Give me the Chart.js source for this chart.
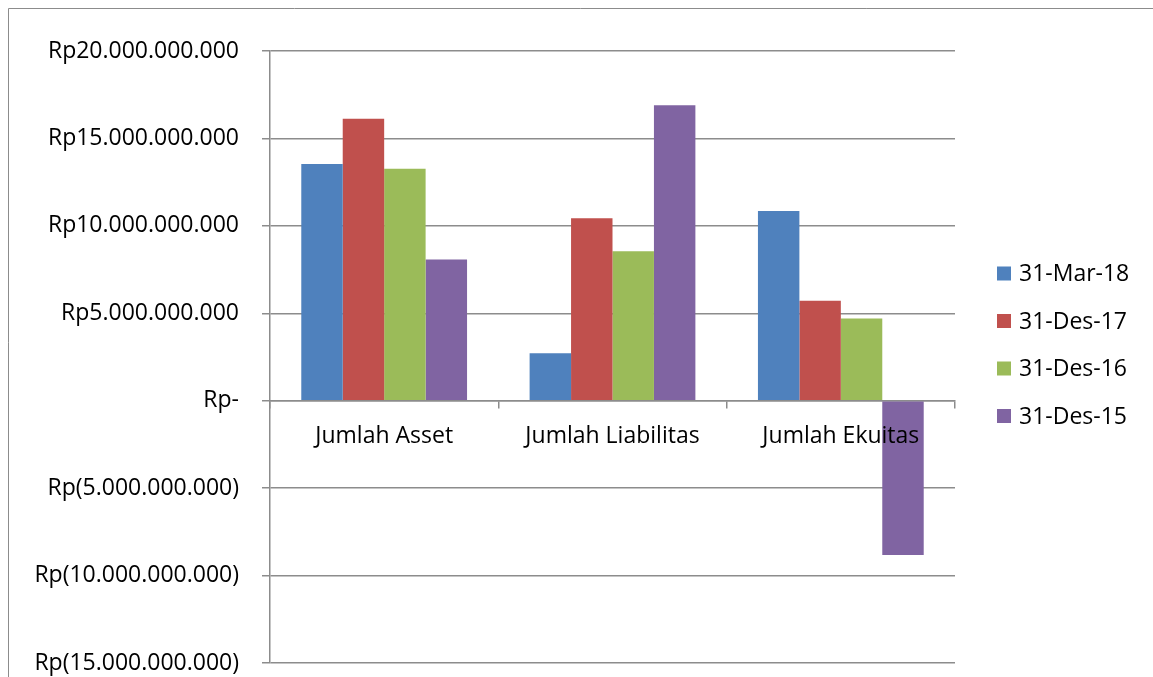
<!DOCTYPE html>
<html>
<head>
<meta charset="utf-8">
<script src="https://cdn.jsdelivr.net/npm/chart.js@4/dist/chart.umd.min.js"></script>
<style>
  html, body { margin: 0; padding: 0; background: #ffffff; }
  #wrap { width: 1153px; height: 677px; position: relative; }
</style>
</head>
<body>
<div id="wrap"><canvas id="chart"></canvas></div>
<script>
// Posisi keuangan (Rupiah)
const categories = ['Jumlah Asset', 'Jumlah Liabilitas', 'Jumlah Ekuitas'];
const periods = ['31-Mar-18', '31-Des-17', '31-Des-16', '31-Des-15'];

const mar18 = [13540000000, 2720000000, 10850000000];
const des17 = [16130000000, 10440000000, 5710000000];
const des16 = [13260000000, 8550000000, 4700000000];
const des15 = [8070000000, 16900000000, -8820000000];

const seriesColors = ['#4F81BD', '#C0504D', '#9BBB59', '#8064A2'];

const yMin = -15000000000;
const yMax = 20000000000;
const yStep = 5000000000;

const FONT = '"Open Sans", "Liberation Sans", sans-serif';
const FONT_SIZE = 23;
const GRID = '#8c8c8c';

// Rupiah accounting format: Rp20.000.000.000, Rp-, Rp(5.000.000.000)
function rupiah(v) {
  if (v === 0) return 'Rp-';
  const s = Math.abs(v).toString().replace(/\B(?=(\d{3})+(?!\d))/g, '.');
  return v < 0 ? 'Rp(' + s + ')' : 'Rp' + s;
}

// Outer frame of the chart object
const framePlugin = {
  id: 'frame',
  beforeDraw(chart) {
    const ctx = chart.ctx;
    ctx.save();
    ctx.strokeStyle = GRID;
    ctx.lineWidth = 1;
    ctx.beginPath();
    ctx.moveTo(8.5, chart.height);
    ctx.lineTo(8.5, 8.5);
    ctx.lineTo(chart.width, 8.5);
    ctx.stroke();
    ctx.restore();
  }
};

// Legend on the right side, one row per period
const sideLegend = {
  id: 'sideLegend',
  afterDraw(chart) {
    const ctx = chart.ctx;
    ctx.save();
    ctx.font = FONT_SIZE + 'px ' + FONT;
    ctx.textBaseline = 'middle';
    ctx.textAlign = 'left';
    chart.data.datasets.forEach((ds, i) => {
      const y = 273.5 + i * 47.5;
      ctx.fillStyle = ds.backgroundColor;
      ctx.fillRect(997, y - 7, 14, 14);
      ctx.fillStyle = '#000000';
      ctx.fillText(ds.label, 1019, y + 1);
    });
    ctx.restore();
  }
};

const values = [mar18, des17, des16, des15];

new Chart(document.getElementById('chart'), {
  type: 'bar',
  data: {
    labels: categories,
    datasets: periods.map((p, i) => ({
      label: p,
      data: values[i],
      backgroundColor: seriesColors[i],
      borderWidth: 0,
      categoryPercentage: 0.726,
      barPercentage: 1.0
    }))
  },
  options: {
    responsive: true,
    maintainAspectRatio: false,
    animation: false,
    layout: { padding: { top: 51, left: 10, right: 198, bottom: 14 } },
    plugins: {
      legend: { display: false },
      tooltip: { enabled: false }
    },
    scales: {
      x: {
        position: { y: 0 },
        offset: true,
        afterFit(scale) {
          scale.paddingTop = 0;
          scale.paddingBottom = 0;
        },
        grid: {
          offset: true,
          drawOnChartArea: false,
          drawTicks: true,
          tickLength: 7,
          color: GRID,
          lineWidth: 1.5
        },
        border: { display: true, color: GRID, width: 1.5 },
        ticks: {
          z: 1,
          padding: 15,
          color: '#000000',
          font: { family: FONT, size: FONT_SIZE },
          maxRotation: 0
        }
      },
      y: {
        min: yMin,
        max: yMax,
        afterFit(scale) {
          scale.width = 260;
          scale.paddingTop = 0;
          scale.paddingBottom = 0;
        },
        grid: {
          color: GRID,
          lineWidth: 1.5,
          drawTicks: true,
          tickLength: 8
        },
        border: { display: true, color: GRID, width: 1.5 },
        ticks: {
          stepSize: yStep,
          padding: 23,
          color: '#000000',
          font: { family: FONT, size: FONT_SIZE },
          callback: (v) => rupiah(v)
        }
      }
    }
  },
  plugins: [framePlugin, sideLegend]
});
</script>
</body>
</html>
